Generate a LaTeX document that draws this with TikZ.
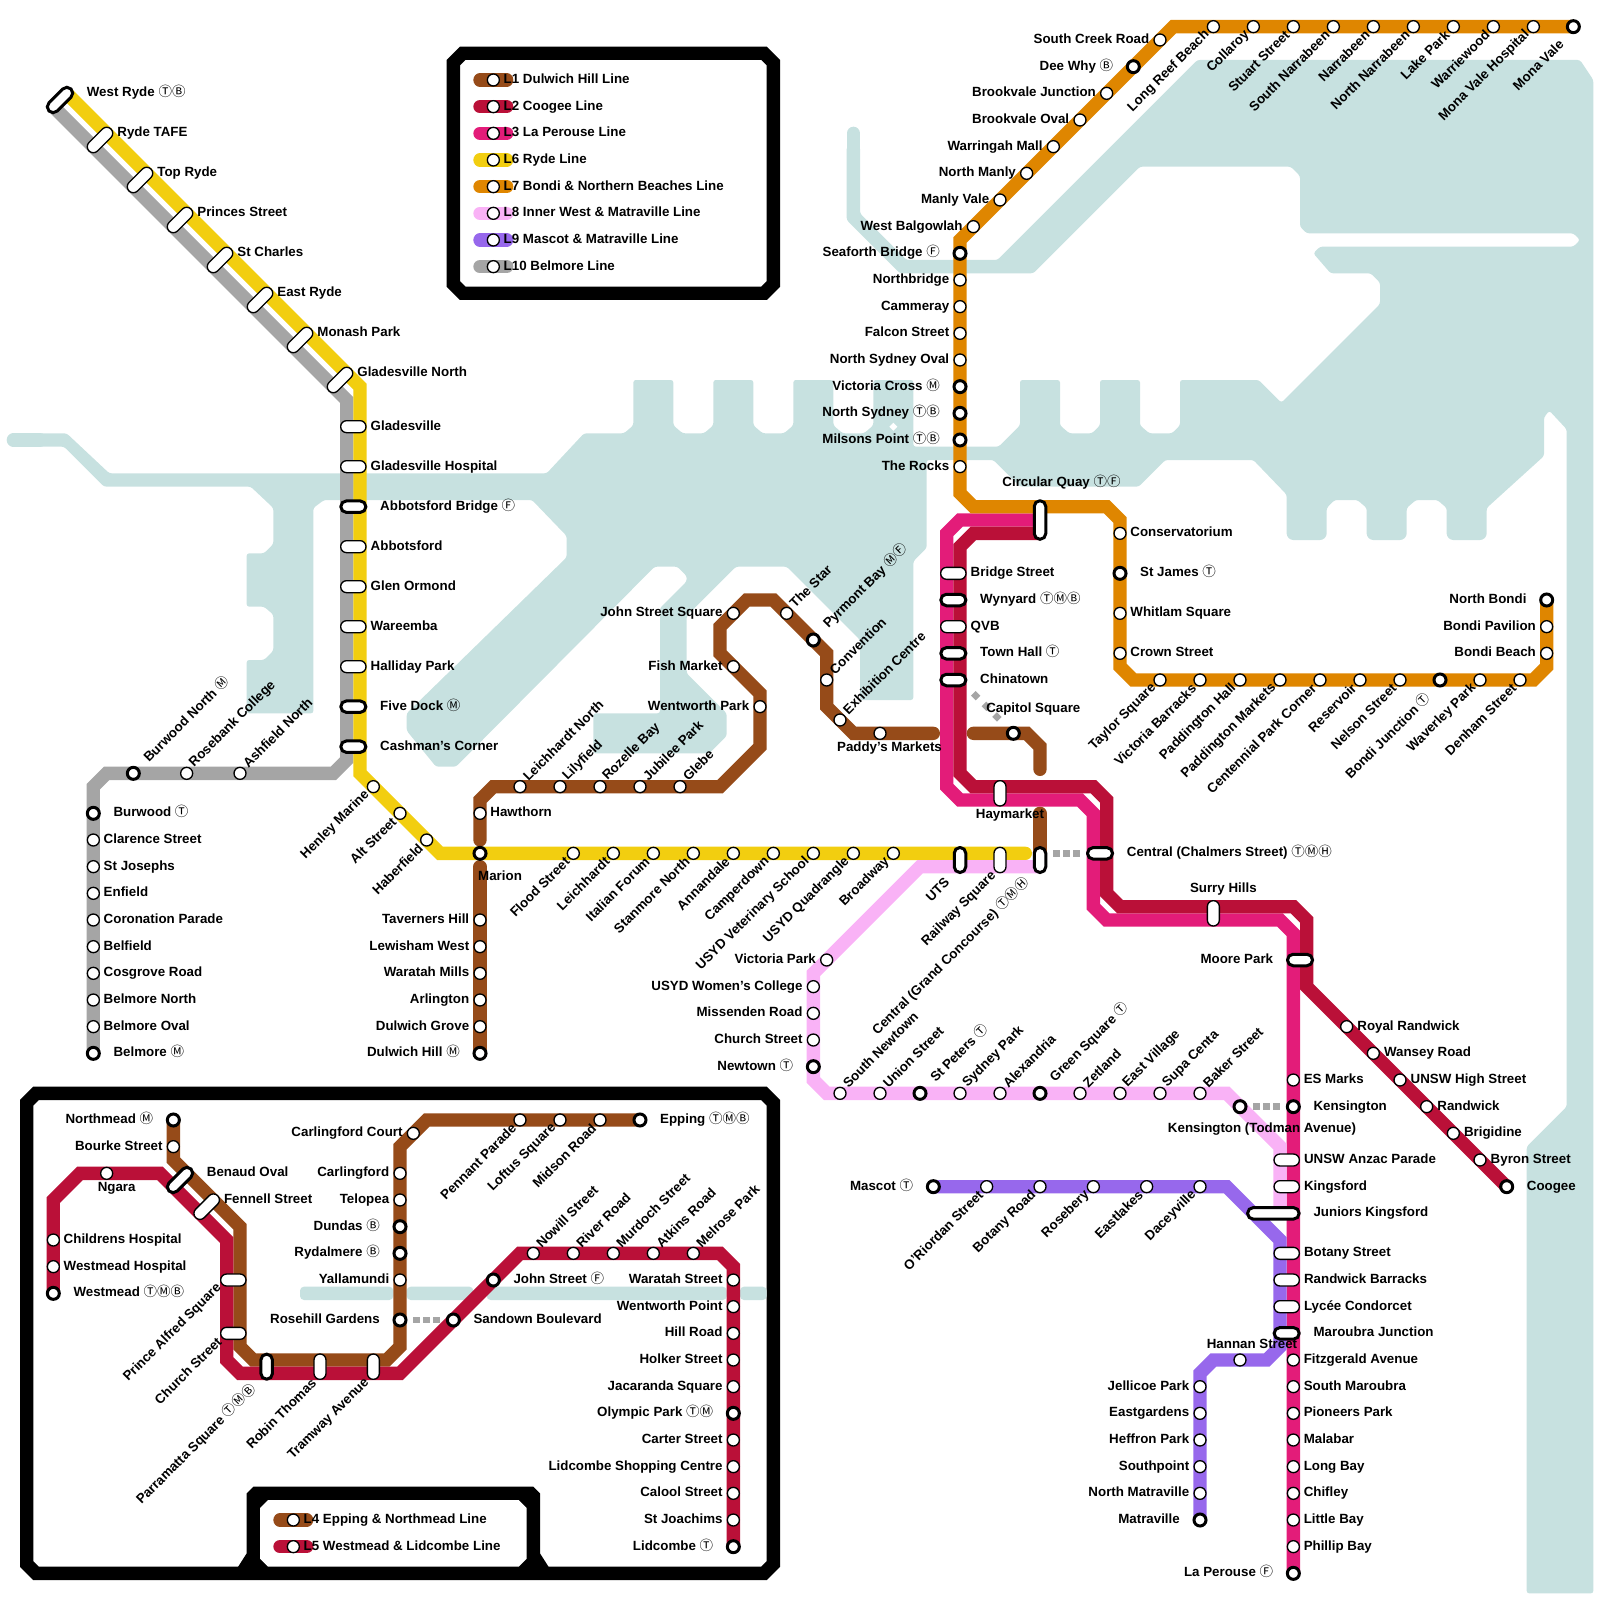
\documentclass[tikz,border=0pt]{standalone}
\usepackage{fontspec}
\setmainfont{Liberation Sans}
\newfontfamily\symf{Noto Sans CJK JP}
\usetikzlibrary{calc}
\pgfdeclarelayer{base}
\pgfsetlayers{base,main}
\definecolor{lone}{HTML}{964B19}
\definecolor{ltwo}{HTML}{BA1038}
\definecolor{lthree}{HTML}{E31C79}
\definecolor{lsix}{HTML}{F2CE10}
\definecolor{lseven}{HTML}{DF8600}
\definecolor{leight}{HTML}{F9B2F6}
\definecolor{lnine}{HTML}{9768EC}
\definecolor{lten}{HTML}{A5A5A5}
\definecolor{water}{HTML}{C7E1E0}
\newcommand{\lbfont}{\bfseries\fontsize{13.33}{15}\selectfont}
\newcommand{\sy}[1]{{\symf\mdseries\fontsize{13.5}{13.5}\selectfont #1}}
\tikzset{
  stn/.style={circle,draw,fill=white,line width=1.33pt,minimum size=12pt,inner sep=0pt},
  itc/.style={stn,line width=3pt,minimum size=12pt},
  ph/.style={draw,fill=white,rounded corners=5.9pt,line width=1.33pt,minimum width=25.3pt,minimum height=12pt,inner sep=0pt},
  pht/.style={ph,line width=3pt,minimum width=25pt,minimum height=11.5pt,rounded corners=5.6pt},
  pv/.style={ph,rotate=90},
  pvt/.style={pht,rotate=90},
  pvl/.style={pht,rotate=90,minimum width=38.5pt},
  pd/.style={ph,rotate=45,minimum width=31pt},
  pdt/.style={pht,rotate=45,minimum width=31pt},
  pwt/.style={pht,minimum width=51.5pt},
  lb/.style={font=\lbfont,inner sep=0pt},
  rs/.style={lb,anchor=base west,xshift=10.2pt,yshift=-3.6pt},
  ri/.style={lb,anchor=base west,xshift=20pt,yshift=-3.6pt},
  rp/.style={lb,anchor=base west,xshift=17.2pt,yshift=-3.6pt},
  rt/.style={lb,anchor=base west,xshift=26.7pt,yshift=-3.6pt},
  rw/.style={lb,anchor=base west,xshift=40pt,yshift=-3.6pt},
  rd/.style={lb,anchor=base west,xshift=17.2pt,yshift=3.4pt},
  rdt/.style={lb,anchor=base west,xshift=26.7pt,yshift=3.4pt},
  rc/.style={lb,anchor=base west,xshift=10.5pt,yshift=-3.6pt},
  ls/.style={lb,anchor=base east,xshift=-10.6pt,yshift=-3.6pt},
  li/.style={lb,anchor=base east,xshift=-20pt,yshift=-3.6pt},
  lt/.style={lb,anchor=base east,xshift=-26.7pt,yshift=-3.6pt},
  us/.style={lb,anchor=west,xshift=5pt,yshift=8pt,rotate=45},
  ui/.style={lb,anchor=west,xshift=12pt,yshift=14pt,rotate=45},
  ds/.style={lb,anchor=east,xshift=-6pt,yshift=-6pt,rotate=45},
  di/.style={lb,anchor=east,xshift=-12pt,yshift=-15pt,rotate=45},
  dp/.style={lb,anchor=east,xshift=-6pt,yshift=-14pt,rotate=45},
  dt/.style={lb,anchor=east,xshift=-13pt,yshift=-20pt,rotate=45},
  dh/.style={lb,anchor=east,xshift=-14pt,yshift=-6pt,rotate=45},
  tx/.style={lb},
  ln/.style={line width=13.33pt,line cap=round},
  xfer/.style={line width=6.67pt,lten,dash pattern=on 6.67pt off 3.33pt},
  frame/.style={draw=black,line width=13.33pt,fill=white},
  sea/.style={fill=water,draw=none,rounded corners=2.5pt},
  strip/.style={water,line width=13.33pt,line cap=round}
}
\begin{document}
\begin{tikzpicture}[x=26.6667pt,y=-26.6667pt]
  \useasboundingbox (0,0) rectangle (60,60);
  \begin{pgfonlayer}{base}
    \fill[sea] (0.5,16.25) -- (2.5,16.25) -- (4.1,17.75) -- (20.5,17.75) -- (21.9,16.25) -- (23.4,16.25) -- (23.75,15.95) -- (23.75,14.25) -- (25.25,14.25) -- (25.25,15.95) -- (25.6,16.25) -- (26.4,16.25) -- (26.75,15.95) -- (26.75,14.25) -- (28.25,14.25) -- (28.25,15.95) -- (28.6,16.25) -- (29.4,16.25) -- (29.75,15.95) -- (29.75,14.25) -- (31.25,14.25) -- (31.25,15.95) -- (31.6,16.25) -- (32.4,16.25) -- (32.75,15.95) -- (32.75,14.25) -- (34.25,14.25) -- (34.25,16.75) -- (37.45,16.75) -- (38.25,15.95) -- (38.25,14.25) -- (39.75,14.25) -- (39.75,15.95) -- (40.1,16.25) -- (40.95,16.25) -- (41.25,15.95) -- (41.25,14.25) -- (42.75,14.25) -- (42.75,15.95) -- (43.1,16.25) -- (43.95,16.25) -- (44.25,15.95) -- (44.25,14.25) -- (47.2,14.25) -- (48.05,15.1) -- (51.75,11.4) -- (51.75,10.6) -- (51.4,10.25) -- (49.9,10.25) -- (49.25,9.5) -- (49.5,9.25) -- (59,9.25) -- (59.25,9) -- (59,8.75) -- (49,8.75) -- (48.75,8.5) -- (48.75,6.6) -- (48.4,6.25) -- (42.75,6.25) -- (38.75,10.25) -- (33.75,10.25) -- (31.75,8.25) -- (31.75,5.5) -- (32.25,5.5) -- (32.25,8) -- (34,9.75) -- (37.4,9.75) -- (44.9,2.25) -- (59.25,2.25) -- (59.75,3) -- (59.75,59.75) -- (57.25,59.75) -- (57.25,43) -- (58.75,41.5) -- (58.75,16.1) -- (58.1,15.4) -- (57.9,15.65) -- (57.9,17.1) -- (55.75,19.05) -- (55.75,20.1) -- (55.6,20.25) -- (54.4,20.25) -- (54.25,20.1) -- (54.25,19.05) -- (53.9,18.75) -- (53.1,18.75) -- (52.75,19.05) -- (52.75,20.1) -- (52.6,20.25) -- (51.4,20.25) -- (51.25,20.1) -- (51.25,19.05) -- (50.9,18.75) -- (50.05,18.75) -- (49.75,19.05) -- (49.75,20.1) -- (49.6,20.25) -- (48.4,20.25) -- (48.25,20.1) -- (48.25,18.55) -- (47,17.25) -- (43.7,17.25) -- (42.7,18.25) -- (38.25,18.25) -- (37.25,17.25) -- (34.75,17.25) -- (34.75,20.55) -- (34.25,21.05) -- (34.25,26.25) -- (32.25,26.25) -- (32.25,24) -- (29.5,21.25) -- (27.6,21.25) -- (25.75,23.1) -- (25.75,25.25) -- (27.25,26.75) -- (27.25,27.6) -- (26.6,28.25) -- (22.25,28.25) -- (22.25,26.75) -- (24.75,26.75) -- (24.75,22.8) -- (25.75,21.8) -- (25.75,21.6) -- (25.4,21.25) -- (24.55,21.25) -- (17.1,28.75) -- (16.35,28.75) -- (15.25,27.4) -- (15.25,26.75) -- (21.25,20.9) -- (21.25,20.1) -- (19.95,18.75) -- (12.15,18.75) -- (11.75,19.05) -- (11.75,26.75) -- (9.25,26.75) -- (9.25,24.75) -- (9.9,24.75) -- (10.25,24.4) -- (10.25,23.05) -- (9.9,22.75) -- (9.25,22.75) -- (9.25,20.75) -- (9.9,20.75) -- (10.25,20.4) -- (10.25,19.05) -- (9.4,18.25) -- (3.9,18.25) -- (2.4,16.75) -- (0.5,16.75) -- cycle;
    \draw[strip] (0.5,16.5) -- (1.5,16.5);
    \draw[strip] (32,5) -- (32,6);
    \fill[white] (33.5,15.85) -- (33.65,16) -- (33.5,16.15) -- (33.35,16) -- cycle;
    \draw[frame] (17.35,2) -- (28.65,2) -- (29,2.35) -- (29,10.65) -- (28.65,11) -- (17.35,11) -- (17,10.65) -- (17,2.35) -- cycle;
    \draw[frame] (1.35,41) -- (28.65,41) -- (29,41.35) -- (29,58.65) -- (28.65,59) -- (1.35,59) -- (1,58.65) -- (1,41.35) -- cycle;
    \fill[black] (8.9,58.8) -- (9.25,58.25) -- (9.25,56) -- (9.5,55.75) -- (20,55.75) -- (20.25,56) -- (20.25,58.25) -- (20.6,58.8) -- cycle;
    \fill[white] (10.05,56.25) -- (19.45,56.25) -- (19.75,56.55) -- (19.75,58.45) -- (19.45,58.75) -- (10.05,58.75) -- (9.75,58.45) -- (9.75,56.55) -- cycle;
    \fill[sea,rounded corners=4pt] (11.25,48.25) rectangle (14.75,48.75);
    \fill[sea,rounded corners=4pt] (15.25,48.25) rectangle (17.75,48.75);
    \fill[sea,rounded corners=4pt] (18.25,48.25) rectangle (27.25,48.75);
    \fill[sea,rounded corners=4pt] (27.75,48.25) rectangle (28.75,48.75);
  \end{pgfonlayer}
  \foreach \y/\c/\t in {3/lone/L1 Dulwich Hill Line,4/ltwo/L2 Coogee Line,5/lthree/L3 La Perouse Line,6/lsix/L6 Ryde Line,7/lseven/L7 Bondi \& Northern Beaches Line,8/leight/L8 Inner West \& Matraville Line,9/lnine/L9 Mascot \& Matraville Line,10/lten/L10 Belmore Line}{
    \node[stn] (k\y) at (18.5,\y) {};
    \node[rs] (k\y-l) at (k\y) {\t};
    \begin{pgfonlayer}{base}
      \draw[ln,\c] ($(k\y)+(-.5,0)$) -- ($(k\y)+(.5,0)$);
    \end{pgfonlayer}
  }
  \foreach \y/\c/\t in {57/lone/L4 Epping \& Northmead Line,58/ltwo/L5 Westmead \& Lidcombe Line}{
    \node[stn] (k\y) at (11,\y) {};
    \node[rs] (k\y-l) at (k\y) {\t};
    \begin{pgfonlayer}{base}
      \draw[ln,\c] ($(k\y)+(-.5,0)$) -- ($(k\y)+(.5,0)$);
    \end{pgfonlayer}
  }
  \foreach \s/\n/\x/\y/\p/\t in {
    pdt/westryde/2.25/3.75/rdt/West Ryde \sy{ⓉⒷ},
    pd/rydetafe/3.75/5.25/rd/Ryde TAFE,
    pd/topryde/5.25/6.75/rd/Top Ryde,
    pd/princes/6.75/8.25/rd/Princes Street,
    pd/stcharles/8.25/9.75/rd/St Charles,
    pd/eastryde/9.75/11.25/rd/East Ryde,
    pd/monash/11.25/12.75/rd/Monash Park,
    pd/gladnorth/12.75/14.25/rd/Gladesville North,
    ph/gladesville/13.25/16/rp/Gladesville,
    ph/gladhosp/13.25/17.5/rp/Gladesville Hospital,
    pht/abbbridge/13.25/19/rt/Abbotsford Bridge \sy{Ⓕ},
    ph/abbotsford/13.25/20.5/rp/Abbotsford,
    ph/glenormond/13.25/22/rp/Glen Ormond,
    ph/wareemba/13.25/23.5/rp/Wareemba,
    ph/halliday/13.25/25/rp/Halliday Park,
    pht/fivedock/13.25/26.5/rt/Five Dock \sy{Ⓜ},
    pht/cashman/13.25/28/rt/Cashman's Corner,
    itc/burwoodn/5/29/ui/Burwood North \sy{Ⓜ},
    stn/rosebank/7/29/us/Rosebank College,
    stn/ashfield/9/29/us/Ashfield North,
    itc/burwood/3.5/30.5/ri/Burwood \sy{Ⓣ},
    stn/clarence/3.5/31.5/rs/Clarence Street,
    stn/stjosephs/3.5/32.5/rs/St Josephs,
    stn/enfield/3.5/33.5/rs/Enfield,
    stn/coronation/3.5/34.5/rs/Coronation Parade,
    stn/belfield/3.5/35.5/rs/Belfield,
    stn/cosgrove/3.5/36.5/rs/Cosgrove Road,
    stn/belmoren/3.5/37.5/rs/Belmore North,
    stn/belmoreo/3.5/38.5/rs/Belmore Oval,
    itc/belmore/3.5/39.5/ri/Belmore \sy{Ⓜ},
    stn/henley/14/29.5/ds/Henley Marine,
    stn/altst/15/30.5/ds/Alt Street,
    stn/haberfield/16/31.5/ds/Haberfield,
    stn/flood/21.5/32/ds/Flood Street,
    stn/leichhardt/23/32/ds/Leichhardt,
    stn/italian/24.5/32/ds/Italian Forum,
    stn/stanmore/26/32/ds/Stanmore North,
    stn/annandale/27.5/32/ds/Annandale,
    stn/camperdown/29/32/ds/Camperdown,
    stn/usydvet/30.5/32/ds/USYD Veterinary School,
    stn/usydquad/32/32/ds/USYD Quadrangle,
    stn/broadway/33.5/32/ds/Broadway,
    pvt/uts/36/32.25/dt/UTS,
    pv/railway/37.5/32.25/dp/Railway Square,
    pvt/centralgc/39/32.25/dt/Central (Grand Concourse) \sy{ⓉⓂⒽ},
    stn/hawthorn/18/30.5/rs/Hawthorn,
    stn/leichn/19.5/29.5/us/Leichhardt North,
    stn/lilyfield/21/29.5/us/Lilyfield,
    stn/rozelle/22.5/29.5/us/Rozelle Bay,
    stn/jubilee/24/29.5/us/Jubilee Park,
    stn/glebe/25.5/29.5/us/Glebe,
    stn/wentworth/28.5/26.5/ls/Wentworth Park,
    stn/fish/27.5/25/ls/Fish Market,
    stn/johnsq/27.5/23/ls/John Street Square,
    stn/thestar/29.5/23/us/The Star,
    itc/pyrmont/30.5/24/ui/Pyrmont Bay \sy{ⓂⒻ},
    stn/convention/31/25.5/us/Convention,
    stn/exhibition/31.5/27/us/Exhibition Centre,
    stn/taverners/18/34.5/ls/Taverners Hill,
    stn/lewisham/18/35.5/ls/Lewisham West,
    stn/waratahm/18/36.5/ls/Waratah Mills,
    stn/arlington/18/37.5/ls/Arlington,
    stn/dulwichg/18/38.5/ls/Dulwich Grove,
    itc/dulwichh/18/39.5/li/Dulwich Hill \sy{Ⓜ},
    stn/southcreek/43.5/1.5/ls/South Creek Road,
    itc/deewhy/42.5/2.5/li/Dee Why \sy{Ⓑ},
    stn/brookj/41.5/3.5/ls/Brookvale Junction,
    stn/brooko/40.5/4.5/ls/Brookvale Oval,
    stn/warringah/39.5/5.5/ls/Warringah Mall,
    stn/northmanly/38.5/6.5/ls/North Manly,
    stn/manlyvale/37.5/7.5/ls/Manly Vale,
    stn/westbal/36.5/8.5/ls/West Balgowlah,
    itc/seaforth/36/9.5/li/Seaforth Bridge \sy{Ⓕ},
    stn/northbridge/36/10.5/ls/Northbridge,
    stn/cammeray/36/11.5/ls/Cammeray,
    stn/falcon/36/12.5/ls/Falcon Street,
    stn/nsoval/36/13.5/ls/North Sydney Oval,
    itc/viccross/36/14.5/li/Victoria Cross \sy{Ⓜ},
    itc/nsydney/36/15.5/li/North Sydney \sy{ⓉⒷ},
    itc/milsons/36/16.5/li/Milsons Point \sy{ⓉⒷ},
    stn/rocks/36/17.5/ls/The Rocks,
    stn/longreef/45.5/1/ds/Long Reef Beach,
    stn/collaroy/47/1/ds/Collaroy,
    stn/stuart/48.5/1/ds/Stuart Street,
    stn/southnar/50/1/ds/South Narrabeen,
    stn/narrabeen/51.5/1/ds/Narrabeen,
    stn/northnar/53/1/ds/North Narrabeen,
    stn/lakepark/54.5/1/ds/Lake Park,
    stn/warriewood/56/1/ds/Warriewood,
    stn/mvhosp/57.5/1/ds/Mona Vale Hospital,
    itc/monavale/59/1/di/Mona Vale,
    stn/conserv/42/20/rs/Conservatorium,
    itc/stjames/42/21.5/ri/St James \sy{Ⓣ},
    stn/whitlam/42/23/rs/Whitlam Square,
    stn/crown/42/24.5/rs/Crown Street,
    stn/taylor/43.5/25.5/ds/Taylor Square,
    stn/vicbarracks/45/25.5/ds/Victoria Barracks,
    stn/padhall/46.5/25.5/ds/Paddington Hall,
    stn/padmarkets/48/25.5/ds/Paddington Markets,
    stn/centennial/49.5/25.5/ds/Centennial Park Corner,
    stn/reservoir/51/25.5/ds/Reservoir,
    stn/nelson/52.5/25.5/ds/Nelson Street,
    itc/bondij/54/25.5/di/Bondi Junction \sy{Ⓣ},
    stn/waverley/55.5/25.5/ds/Waverley Park,
    stn/denham/57/25.5/ds/Denham Street,
    stn/bondib/58/24.5/ls/Bondi Beach,
    stn/bondip/58/23.5/ls/Bondi Pavilion,
    itc/northbondi/58/22.5/li/North Bondi,
    ph/bridgest/35.75/21.5/rp/Bridge Street,
    pht/wynyard/35.75/22.5/rt/Wynyard \sy{ⓉⓂⒷ},
    ph/qvb/35.75/23.5/rp/QVB,
    pht/townhall/35.75/24.5/rt/Town Hall \sy{Ⓣ},
    pht/chinatown/35.75/25.5/rt/Chinatown,
    pht/chalmers/41.25/32/rt/Central (Chalmers Street) \sy{ⓉⓂⒽ},
    pht/moorepark/48.75/36/lt/Moore Park,
    stn/esmarks/48.5/40.5/rs/ES Marks,
    itc/kensington/48.5/41.5/ri/Kensington,
    ph/anzac/48.25/43.5/rp/UNSW Anzac Parade,
    ph/kingsford/48.25/44.5/rp/Kingsford,
    ph/botanyst/48.25/47/rp/Botany Street,
    ph/barracks/48.25/48/rp/Randwick Barracks,
    ph/lycee/48.25/49/rp/Lycée Condorcet,
    pht/maroubra/48.25/50/rt/Maroubra Junction,
    stn/fitzgerald/48.5/51/rs/Fitzgerald Avenue,
    stn/southmar/48.5/52/rs/South Maroubra,
    stn/pioneers/48.5/53/rs/Pioneers Park,
    stn/malabar/48.5/54/rs/Malabar,
    stn/longbay/48.5/55/rs/Long Bay,
    stn/chifley/48.5/56/rs/Chifley,
    stn/littlebay/48.5/57/rs/Little Bay,
    stn/phillipbay/48.5/58/rs/Phillip Bay,
    itc/laperouse/48.5/59/li/La Perouse \sy{Ⓕ},
    stn/royalr/50.5/38.5/rc/Royal Randwick,
    stn/wansey/51.5/39.5/rc/Wansey Road,
    stn/unswhigh/52.5/40.5/rc/UNSW High Street,
    stn/randwick/53.5/41.5/rc/Randwick,
    stn/brigidine/54.5/42.5/rc/Brigidine,
    stn/byron/55.5/43.5/rc/Byron Street,
    itc/coogee/56.5/44.5/ri/Coogee,
    stn/victoriap/31/36/ls/Victoria Park,
    stn/usydwomen/30.5/37/ls/USYD Women's College,
    stn/missenden/30.5/38/ls/Missenden Road,
    stn/churchst/30.5/39/ls/Church Street,
    itc/newtown/30.5/40/li/Newtown \sy{Ⓣ},
    stn/southnew/31.5/41/us/South Newtown,
    stn/unionst/33/41/us/Union Street,
    itc/stpeters/34.5/41/ui/St Peters \sy{Ⓣ},
    stn/sydneypark/36/41/us/Sydney Park,
    stn/alexandria/37.5/41/us/Alexandria,
    itc/greensq/39/41/ui/Green Square \sy{Ⓣ},
    stn/zetland/40.5/41/us/Zetland,
    stn/eastvillage/42/41/us/East Village,
    stn/supacenta/43.5/41/us/Supa Centa,
    stn/bakerst/45/41/us/Baker Street,
    itc/mascot/35/44.5/li/Mascot \sy{Ⓣ},
    stn/oriordan/37/44.5/ds/O'Riordan Street,
    stn/botanyrd/39/44.5/ds/Botany Road,
    stn/rosebery/41/44.5/ds/Rosebery,
    stn/eastlakes/43/44.5/ds/Eastlakes,
    stn/daceyville/45/44.5/ds/Daceyville,
    pwt/juniors/47.75/45.5/rw/Juniors Kingsford,
    stn/jellicoe/45/52/ls/Jellicoe Park,
    stn/eastgardens/45/53/ls/Eastgardens,
    stn/heffron/45/54/ls/Heffron Park,
    stn/southpoint/45/55/ls/Southpoint,
    stn/northmat/45/56/ls/North Matraville,
    itc/matraville/45/57/li/Matraville,
    itc/northmead/6.5/42/li/Northmead \sy{Ⓜ},
    stn/bourke/6.5/43/ls/Bourke Street,
    pdt/benaud/6.75/44.25/rdt/Benaud Oval,
    pd/fennell/7.75/45.25/rd/Fennell Street,
    ph/princealf/8.75/48/dh/Prince Alfred Square,
    ph/churchp/8.75/50/dh/Church Street,
    pvt/parramatta/10/51.25/dt/Parramatta Square \sy{ⓉⓂⒷ},
    pv/robin/12/51.25/dp/Robin Thomas,
    pv/tramway/14/51.25/dp/Tramway Avenue,
    stn/carlcourt/15.5/42.5/ls/Carlingford Court,
    stn/carlingford/15/44/ls/Carlingford,
    stn/telopea/15/45/ls/Telopea,
    itc/dundas/15/46/li/Dundas \sy{Ⓑ},
    itc/rydalmere/15/47/li/Rydalmere \sy{Ⓑ},
    stn/yallamundi/15/48/ls/Yallamundi,
    itc/rosehill/15/49.5/li/Rosehill Gardens,
    stn/pennant/19.5/42/ds/Pennant Parade,
    stn/loftus/21/42/ds/Loftus Square,
    stn/midson/22.5/42/ds/Midson Road,
    itc/epping/24/42/ri/Epping \sy{ⓉⓂⒷ},
    stn/childrens/2/46.5/rs/Childrens Hospital,
    stn/westhosp/2/47.5/rs/Westmead Hospital,
    itc/westmead/2/48.5/ri/Westmead \sy{ⓉⓂⒷ},
    itc/sandown/17/49.5/ri/Sandown Boulevard,
    itc/johnst/18.5/48/ri/John Street \sy{Ⓕ},
    stn/nowill/20/47/us/Nowill Street,
    stn/riverrd/21.5/47/us/River Road,
    stn/murdoch/23/47/us/Murdoch Street,
    stn/atkins/24.5/47/us/Atkins Road,
    stn/melrose/26/47/us/Melrose Park,
    stn/waratahst/27.5/48/ls/Waratah Street,
    stn/wentpoint/27.5/49/ls/Wentworth Point,
    stn/hillrd/27.5/50/ls/Hill Road,
    stn/holker/27.5/51/ls/Holker Street,
    stn/jacaranda/27.5/52/ls/Jacaranda Square,
    itc/olympic/27.5/53/li/Olympic Park \sy{ⓉⓂ},
    stn/carter/27.5/54/ls/Carter Street,
    stn/lidshop/27.5/55/ls/Lidcombe Shopping Centre,
    stn/calool/27.5/56/ls/Calool Street,
    stn/joachims/27.5/57/ls/St Joachims,
    itc/lidcombe/27.5/58/li/Lidcombe \sy{Ⓣ}}{
    \node[\s] (\n) at (\x,\y) {};
    \node[\p] (\n-l) at (\n) {\t};
  }
  \node[itc] (marion) at (18,32) {};
  \node[tx,anchor=west,xshift=-2pt,yshift=-22pt] (marion-l) at (marion) {Marion};
  \node[pv] (haymarket) at (37.5,29.75) {};
  \node[tx,xshift=10pt,yshift=-21.7pt] (haymarket-l) at (haymarket) {Haymarket};
  \node[pv] (surry) at (45.5,34.25) {};
  \node[tx,xshift=10pt,yshift=24pt] (surry-l) at (surry) {Surry Hills};
  \node[pvl] (circular) at (39,19.5) {};
  \node[tx,xshift=21.5pt,yshift=37.5pt] (circular-l) at (circular) {Circular Quay \sy{ⓉⒻ}};
  \node[stn] (paddys) at (33,27.5) {};
  \node[tx,xshift=9.5pt,yshift=-15pt] (paddys-l) at (paddys) {Paddy's Markets};
  \node[itc] (capitol) at (38,27.5) {};
  \node[tx,xshift=20pt,yshift=24pt] (capitol-l) at (capitol) {Capitol Square};
  \node[stn] (ngara) at (4,44) {};
  \node[tx,xshift=10pt,yshift=-15pt] (ngara-l) at (ngara) {Ngara};
  \node[itc] (todman) at (46.5,41.5) {};
  \node[tx,xshift=22pt,yshift=-22pt] (todman-l) at (todman) {Kensington (Todman Avenue)};
  \node[stn] (hannan) at (46.5,51) {};
  \node[tx,xshift=12pt,yshift=16pt] (hannan-l) at (hannan) {Hannan Street};
  \coordinate (xa) at (39.5,32);
  \coordinate (xb) at (40.5,32);
  \coordinate (xc) at (47,41.5);
  \coordinate (xd) at (48,41.5);
  \coordinate (xe) at (15.5,49.5);
  \coordinate (xf) at (16.5,49.5);
  \coordinate (xg) at (36.5,26);
  \coordinate (xh) at (37.5,27);
  \begin{pgfonlayer}{base}
    \draw[ln,lone] ($(marion)+(0,-.5)$) -- (18,30) -- (18.5,29.5) -- (27,29.5) -- (28.5,28) -- (28.5,26) -- (27,24.5) -- (27,23.5) -- (28,22.5) -- (29,22.5) -- (31,24.5) -- (31,26.5) -- (32,27.5) -- (35,27.5);
    \draw[ln,lone] ($(capitol)+(-1.5,0)$) -- (38.5,27.5) -- (39,28) -- (39,28.85);
    \draw[ln,lone] ($(centralgc)+(0,-1.75)$) -- (centralgc.center);
    \draw[ln,lone] ($(marion)+(0,.5)$) -- (dulwichh.center);
    \draw[ln,lone] (northmead.center) -- (6.5,43.5) -- (9,46) -- (9,50.5) -- (9.5,51) -- (14.5,51) -- (15,50.5) -- (15,43) -- (16,42) -- (epping.center);
    \draw[ln,ltwo] (westmead.center) -- (2,45) -- (3,44) -- (6,44) -- (8.5,46.5) -- (8.5,51) -- (9,51.5) -- (15,51.5) -- (19.5,47) -- (27,47) -- (27.5,47.5) -- (lidcombe.center);
    \draw[ln,lthree] (laperouse.center) -- (48.5,35) -- (48,34.5) -- (41.5,34.5) -- (41,34) -- (41,30.5) -- (40.5,30) -- (36,30) -- (35.5,29.5) -- (35.5,20) -- (36,19.5) -- (circular.center);
    \draw[ln,ltwo] ($(circular)+(0,.5)$) -- (36.5,20) -- (36,20.5) -- (36,29) -- (36.5,29.5) -- (41,29.5) -- (41.5,30) -- (41.5,33.5) -- (42,34) -- (48.5,34) -- (49,34.5) -- (49,37) -- (coogee.center);
    \draw[ln,lseven] (monavale.center) -- (44,1) -- (36,9) -- (36,18.5) -- (36.5,19) -- (41.5,19) -- (42,19.5) -- (42,25) -- (42.5,25.5) -- (57.5,25.5) -- (58,25) -- (northbondi.center);
    \draw[ln,lten] ($(westryde)+(-.25,.25)$) -- (13,15) -- (13,28.5) -- (12.5,29) -- (4,29) -- (3.5,29.5) -- (belmore.center);
    \draw[ln,lsix] ($(westryde)+(.25,-.25)$) -- (13.5,14.5) -- (13.5,29) -- (16.5,32) -- ($(centralgc)+(-.55,-.25)$);
    \draw[ln,leight] ($(centralgc)+(0,.25)$) -- (34.5,32.5) -- (30.5,36.5) -- (30.5,40.5) -- (31,41) -- (46,41) -- (48,43) -- ($(juniors)+(.25,0)$);
    \draw[ln,lnine] (mascot.center) -- (46,44.5) -- (48,46.5) -- (48,50.5) -- (47.5,51) -- (45.5,51) -- (45,51.5) -- (matraville.center);
    \draw[xfer] (xa) -- (xb);
    \draw[xfer] (xc) -- (xd);
    \draw[xfer] (xe) -- (xf);
    \draw[xfer,dash pattern=on 6.67pt off 8.33pt] (xg) -- (xh);
  \end{pgfonlayer}
\end{tikzpicture}
\end{document}
